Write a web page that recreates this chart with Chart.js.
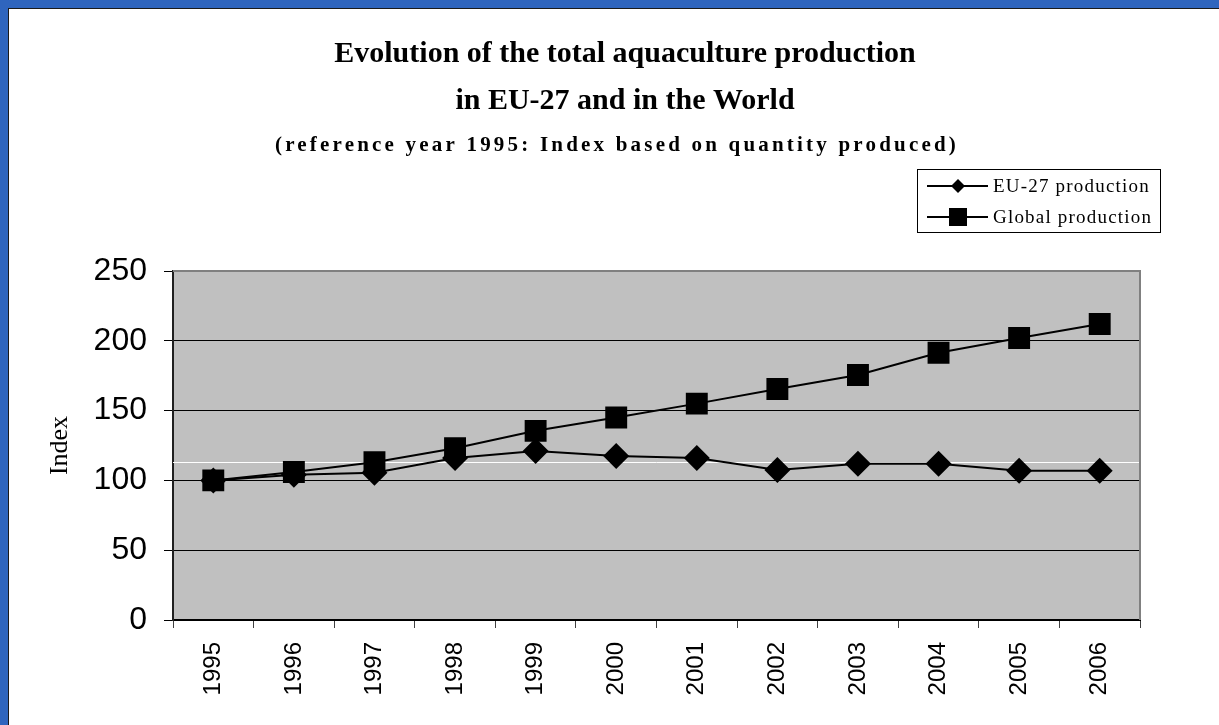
<!DOCTYPE html>
<html>
<head>
<meta charset="utf-8">
<script src="https://cdn.jsdelivr.net/npm/chart.js@4.4.1/dist/chart.umd.min.js"></script>
<style>
  html, body { margin: 0; padding: 0; background: #2f65be; }
  #frame {
    position: absolute; left: 8px; top: 8px;
    width: 1211px; height: 717px;
    border-left: 1px solid #1a1a1a; border-top: 1px solid #1a1a1a;
    background: #ffffff;
  }
  canvas { display: block; }
</style>
</head>
<body>
<div id="frame"><canvas id="chart" width="1210" height="716"></canvas></div>
<script>
// data
const years = ['1995', '1996', '1997', '1998', '1999', '2000', '2001', '2002', '2003', '2004', '2005', '2006'];
const euProduction = [100, 104, 105.5, 116, 121, 117.5, 116, 107.5, 112, 112, 107, 107];
const globalProduction = [100, 106, 113, 123, 135.5, 145, 155, 165.5, 175.5, 191.5, 202, 212];
const yTicks = [0, 50, 100, 150, 200, 250];
const whiteLineValue = 113;

const titleLines = ['Evolution of the total aquaculture production', 'in EU-27 and in the World'];
const subtitleText = '(reference year 1995: Index based on quantity produced)';
const legendLabels = ['EU-27 production', 'Global production'];

// plot background, frame and the white line
const plotBackground = {
  id: 'plotBackground',
  beforeDraw(chart) {
    const { ctx, chartArea: a } = chart;
    ctx.save();
    ctx.fillStyle = '#c0c0c0';
    ctx.fillRect(a.left, a.top, a.right - a.left, a.bottom - a.top);
    ctx.restore();
  },
  beforeDatasetsDraw(chart) {
    const { ctx, chartArea: a, scales } = chart;
    ctx.save();
    // white line
    const y = Math.round(scales.y.getPixelForValue(whiteLineValue)) + 0.5;
    ctx.strokeStyle = '#ffffff';
    ctx.lineWidth = 1;
    ctx.beginPath();
    ctx.moveTo(a.left, y);
    ctx.lineTo(a.right, y);
    ctx.stroke();
    // grey frame top / right
    ctx.strokeStyle = '#808080';
    ctx.lineWidth = 2;
    ctx.beginPath();
    ctx.moveTo(a.left, a.top);
    ctx.lineTo(a.right, a.top);
    ctx.lineTo(a.right, a.bottom);
    ctx.stroke();
    ctx.restore();
  }
};

// titles and legend
const textPlugin = {
  id: 'textPlugin',
  afterDraw(chart) {
    const ctx = chart.ctx;
    ctx.save();
    ctx.fillStyle = '#000';
    ctx.textAlign = 'center';
    ctx.textBaseline = 'alphabetic';
    ctx.font = 'bold 30px "Liberation Serif"';
    ctx.fillText(titleLines[0], 616, 53);
    ctx.fillText(titleLines[1], 616, 100);
    ctx.font = 'bold 21px "Liberation Serif"';
    ctx.letterSpacing = '3.2px';
    ctx.fillText(subtitleText, 608, 142);
    ctx.letterSpacing = '0px';

    // legend box
    ctx.strokeStyle = '#000';
    ctx.lineWidth = 1;
    ctx.strokeRect(908.5, 160.5, 243, 63);
    const rows = [177, 208];
    const ds = chart.data.datasets;
    ctx.textAlign = 'left';
    ctx.textBaseline = 'middle';
    ctx.font = '19px "Liberation Serif"';
    ctx.letterSpacing = '1.2px';
    for (let i = 0; i < 2; i++) {
      const y = rows[i];
      ctx.lineWidth = 2;
      ctx.beginPath();
      ctx.moveTo(918, y);
      ctx.lineTo(979, y);
      ctx.stroke();
      ctx.beginPath();
      if (ds[i].pointStyle === 'rectRot') {
        const r = 7;
        ctx.moveTo(949 - r, y);
        ctx.lineTo(949, y - r);
        ctx.lineTo(949 + r, y);
        ctx.lineTo(949, y + r);
      } else {
        ctx.rect(949 - 9, y - 9, 18, 18);
      }
      ctx.closePath();
      ctx.fill();
      ctx.fillText(legendLabels[i], 984, y + 1);
    }
    ctx.restore();
  }
};

new Chart(document.getElementById('chart'), {
  type: 'line',
  data: {
    labels: years,
    datasets: [
      {
        label: legendLabels[0],
        data: euProduction,
        borderColor: '#000',
        backgroundColor: '#000',
        borderWidth: 2,
        pointStyle: 'rectRot',
        pointRadius: 13,
        pointHoverRadius: 13,
        pointBorderWidth: 0,
        tension: 0
      },
      {
        label: legendLabels[1],
        data: globalProduction,
        borderColor: '#000',
        backgroundColor: '#000',
        borderWidth: 2,
        pointStyle: 'rect',
        pointRadius: 15.5,
        pointHoverRadius: 15.5,
        pointBorderWidth: 0,
        tension: 0
      }
    ]
  },
  options: {
    responsive: false,
    animation: false,
    events: [],
    layout: { padding: { top: 262, right: 79, left: 0, bottom: 0 } },
    plugins: {
      legend: { display: false },
      title: { display: false },
      tooltip: { enabled: false }
    },
    scales: {
      x: {
        offset: true,
        grid: {
          offset: true,
          drawOnChartArea: false,
          drawTicks: true,
          tickLength: 8,
          color: '#404040',
          lineWidth: 1
        },
        border: { display: true, color: '#000', width: 2 },
        ticks: {
          maxRotation: 90,
          minRotation: 90,
          padding: 14,
          color: '#000',
          font: { family: '"Liberation Sans"', size: 24 }
        },
        afterFit(scale) { scale.height = 105; }
      },
      y: {
        min: 0,
        max: 250,
        afterBuildTicks(scale) { scale.ticks = yTicks.map(v => ({ value: v })); },
        grid: {
          color: '#000',
          lineWidth: 1,
          tickLength: 9
        },
        border: { display: true, color: '#202020', width: 2 },
        ticks: {
          padding: 17,
          color: '#000',
          font: { family: '"Liberation Sans"', size: 32 }
        },
        title: {
          display: true,
          text: 'Index',
          color: '#000',
          padding: { top: 36, bottom: 0 },
          font: { family: '"Liberation Serif"', size: 26 }
        },
        afterFit(scale) { scale.width = 164; }
      }
    }
  },
  plugins: [plotBackground, textPlugin]
});
</script>
</body>
</html>
